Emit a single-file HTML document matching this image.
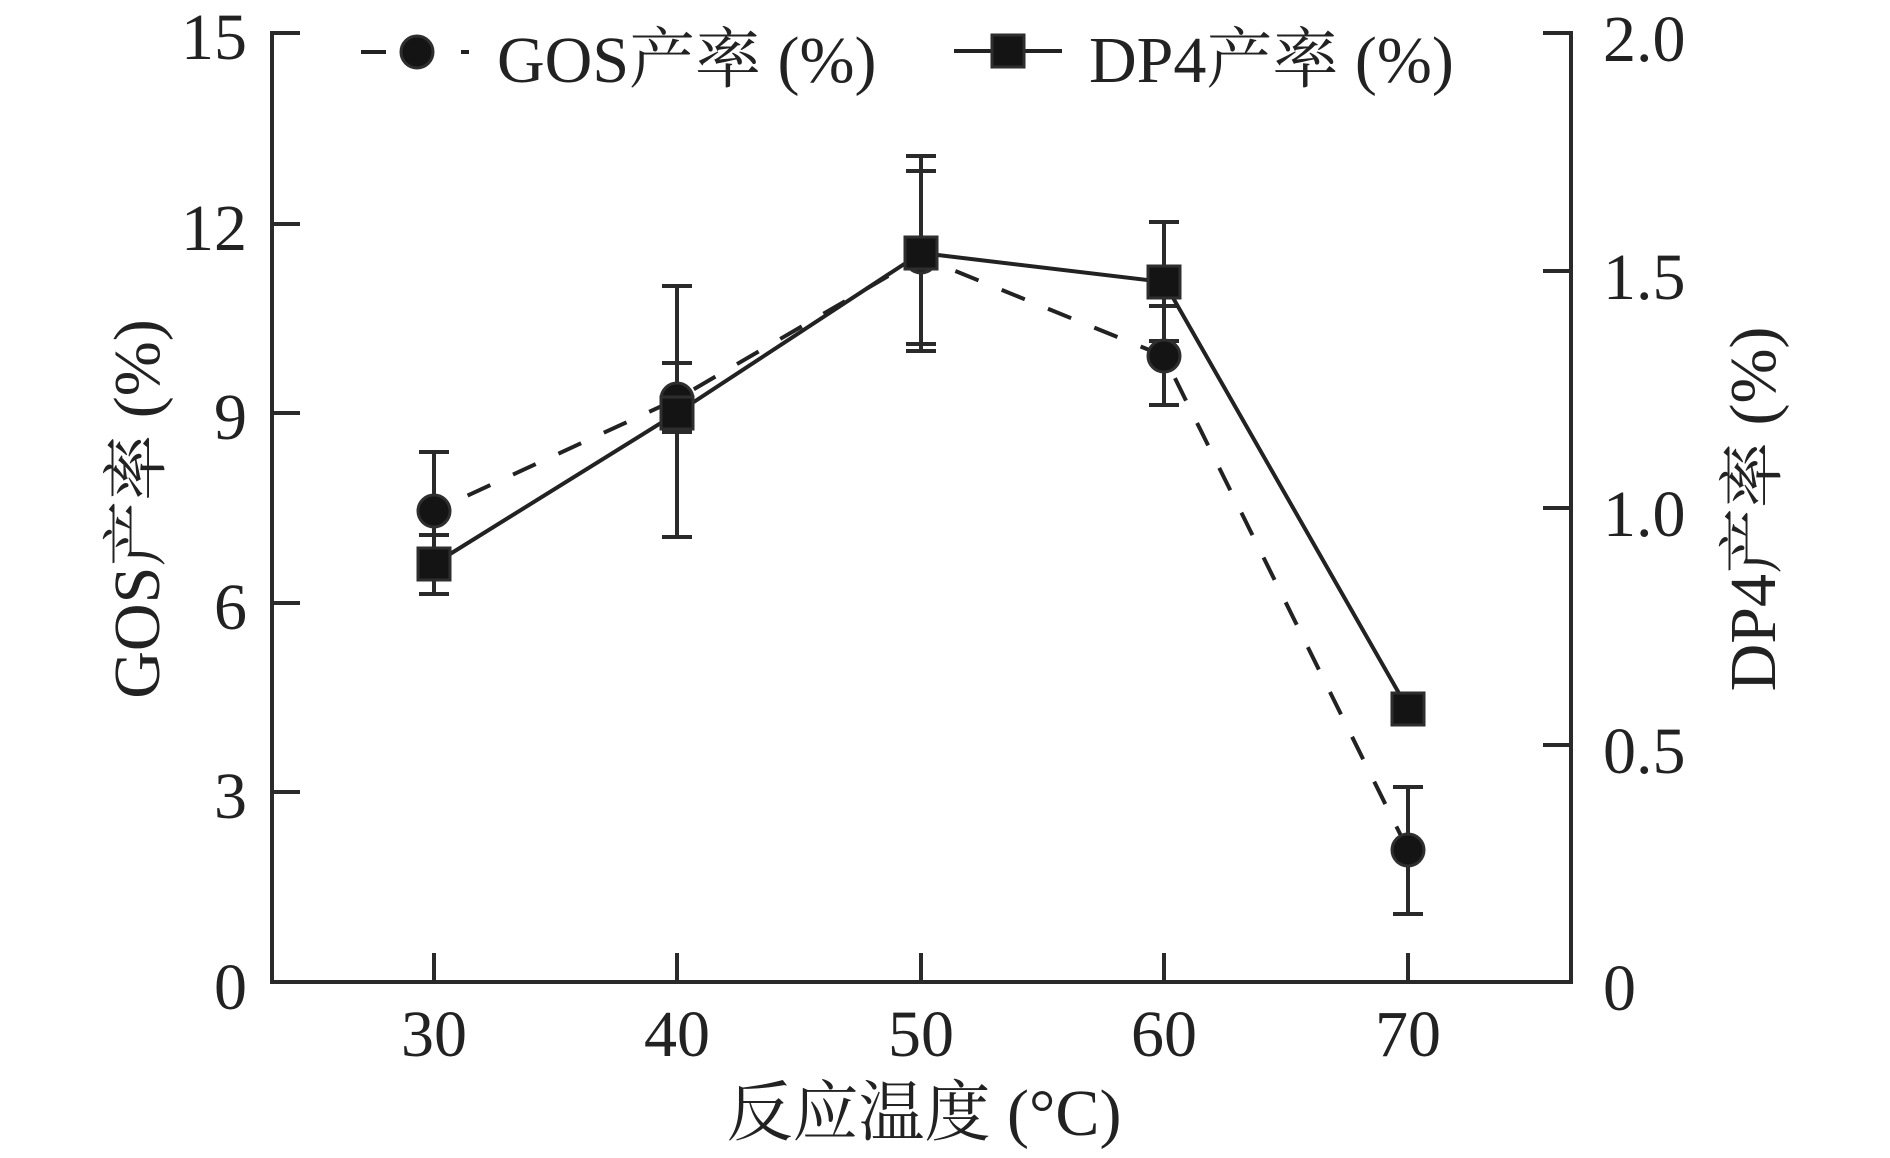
<!DOCTYPE html>
<html>
<head>
<meta charset="utf-8">
<style>
  html,body{margin:0;padding:0;background:#ffffff;}
  svg{display:block;}
  text{font-family:"Liberation Serif","Noto Serif CJK SC","Noto Sans CJK SC",serif;fill:#222222;font-size:66px;}
</style>
</head>
<body>
<svg width="1890" height="1158" viewBox="0 0 1890 1158" xmlns="http://www.w3.org/2000/svg">
  <rect x="0" y="0" width="1890" height="1158" fill="#ffffff"/>

  <!-- Axes -->
  <g stroke="#2a2a2a" stroke-width="4" fill="none" stroke-linecap="square">
    <line x1="272" y1="33" x2="272" y2="982"/>
    <line x1="272" y1="982" x2="1571" y2="982"/>
    <line x1="1571" y1="33" x2="1571" y2="982"/>
  </g>
  <!-- Left ticks -->
  <g stroke="#2a2a2a" stroke-width="4">
    <line x1="272" y1="33" x2="300" y2="33"/>
    <line x1="272" y1="224" x2="300" y2="224"/>
    <line x1="272" y1="413" x2="300" y2="413"/>
    <line x1="272" y1="603" x2="300" y2="603"/>
    <line x1="272" y1="792" x2="300" y2="792"/>
    <line x1="272" y1="982" x2="300" y2="982"/>
    <!-- right ticks -->
    <line x1="1543" y1="33" x2="1571" y2="33"/>
    <line x1="1543" y1="271" x2="1571" y2="271"/>
    <line x1="1543" y1="508" x2="1571" y2="508"/>
    <line x1="1543" y1="745" x2="1571" y2="745"/>
    <!-- x ticks -->
    <line x1="434" y1="953" x2="434" y2="982"/>
    <line x1="677" y1="953" x2="677" y2="982"/>
    <line x1="921" y1="953" x2="921" y2="982"/>
    <line x1="1164" y1="953" x2="1164" y2="982"/>
    <line x1="1408" y1="953" x2="1408" y2="982"/>
  </g>

  <!-- Left tick labels -->
  <g text-anchor="end">
    <text x="247" y="59">15</text>
    <text x="247" y="250">12</text>
    <text x="247" y="439">9</text>
    <text x="247" y="629">6</text>
    <text x="247" y="818">3</text>
    <text x="247" y="1009">0</text>
  </g>
  <!-- Right tick labels -->
  <g text-anchor="start">
    <text x="1603" y="61">2.0</text>
    <text x="1603" y="299">1.5</text>
    <text x="1603" y="536">1.0</text>
    <text x="1603" y="773">0.5</text>
    <text x="1603" y="1010">0</text>
  </g>
  <!-- X tick labels -->
  <g text-anchor="middle">
    <text x="434" y="1056">30</text>
    <text x="677" y="1056">40</text>
    <text x="921" y="1056">50</text>
    <text x="1164" y="1056">60</text>
    <text x="1408" y="1056">70</text>
  </g>

  <!-- Axis titles -->
  <text x="924" y="1135" text-anchor="middle">反应温度 (°C)</text>
  <text transform="translate(159,509) rotate(-90)" text-anchor="middle">GOS产率 (%)</text>
  <text transform="translate(1775,509) rotate(-90)" text-anchor="middle">DP4产率 (%)</text>

  <!-- Error bars -->
  <g stroke="#2a2a2a" stroke-width="4" fill="none">
    <!-- GOS -->
    <line x1="434" y1="452" x2="434" y2="570"/><line x1="419" y1="452" x2="449" y2="452"/><line x1="419" y1="570" x2="449" y2="570"/>
    <line x1="677" y1="363" x2="677" y2="432"/><line x1="662" y1="363" x2="692" y2="363"/><line x1="662" y1="432" x2="692" y2="432"/>
    <line x1="921" y1="171" x2="921" y2="344"/><line x1="906" y1="171" x2="936" y2="171"/><line x1="906" y1="344" x2="936" y2="344"/>
    <line x1="1164" y1="306" x2="1164" y2="405"/><line x1="1149" y1="306" x2="1179" y2="306"/><line x1="1149" y1="405" x2="1179" y2="405"/>
    <line x1="1408" y1="787" x2="1408" y2="914"/><line x1="1393" y1="787" x2="1423" y2="787"/><line x1="1393" y1="914" x2="1423" y2="914"/>
    <!-- DP4 -->
    <line x1="434" y1="535" x2="434" y2="594"/><line x1="419" y1="535" x2="449" y2="535"/><line x1="419" y1="594" x2="449" y2="594"/>
    <line x1="677" y1="286" x2="677" y2="537"/><line x1="662" y1="286" x2="692" y2="286"/><line x1="662" y1="537" x2="692" y2="537"/>
    <line x1="921" y1="156" x2="921" y2="351"/><line x1="906" y1="156" x2="936" y2="156"/><line x1="906" y1="351" x2="936" y2="351"/>
    <line x1="1164" y1="222" x2="1164" y2="341"/><line x1="1149" y1="222" x2="1179" y2="222"/><line x1="1149" y1="341" x2="1179" y2="341"/>
  </g>

  <!-- Series lines -->
  <polyline points="434,511 677,399 921,257 1164,356 1408,850" fill="none" stroke="#222222" stroke-width="4" stroke-dasharray="25 25" stroke-dashoffset="13"/>
  <polyline points="434,564 677,413 921,253 1164,282 1408,709" fill="none" stroke="#222222" stroke-width="4"/>

  <!-- GOS markers (circles) -->
  <g fill="#141414" stroke="#2e2e2e" stroke-width="3">
    <circle cx="434" cy="511" r="16"/>
    <circle cx="677" cy="399" r="16"/>
    <circle cx="921" cy="257" r="16"/>
    <circle cx="1164" cy="356" r="16"/>
    <circle cx="1408" cy="850" r="16"/>
  </g>
  <!-- DP4 markers (squares) -->
  <g fill="#141414" stroke="#2e2e2e" stroke-width="3">
    <rect x="418" y="548" width="32" height="32"/>
    <rect x="661" y="397" width="32" height="32"/>
    <rect x="905" y="237" width="32" height="32"/>
    <rect x="1148" y="266" width="32" height="32"/>
    <rect x="1392" y="693" width="32" height="32"/>
  </g>

  <!-- Legend -->
  <g stroke="#222222" stroke-width="4">
    <line x1="361" y1="52" x2="386" y2="52"/>
    <line x1="461" y1="52" x2="469" y2="52"/>
    <line x1="954" y1="51" x2="1062" y2="51"/>
  </g>
  <circle cx="417" cy="52" r="16" fill="#141414" stroke="#2e2e2e" stroke-width="3"/>
  <rect x="992" y="35" width="32" height="32" fill="#141414" stroke="#2e2e2e" stroke-width="3"/>
  <text x="497" y="82">GOS产率 (%)</text>
  <text x="1089" y="82">DP4产率 (%)</text>
</svg>
</body>
</html>
